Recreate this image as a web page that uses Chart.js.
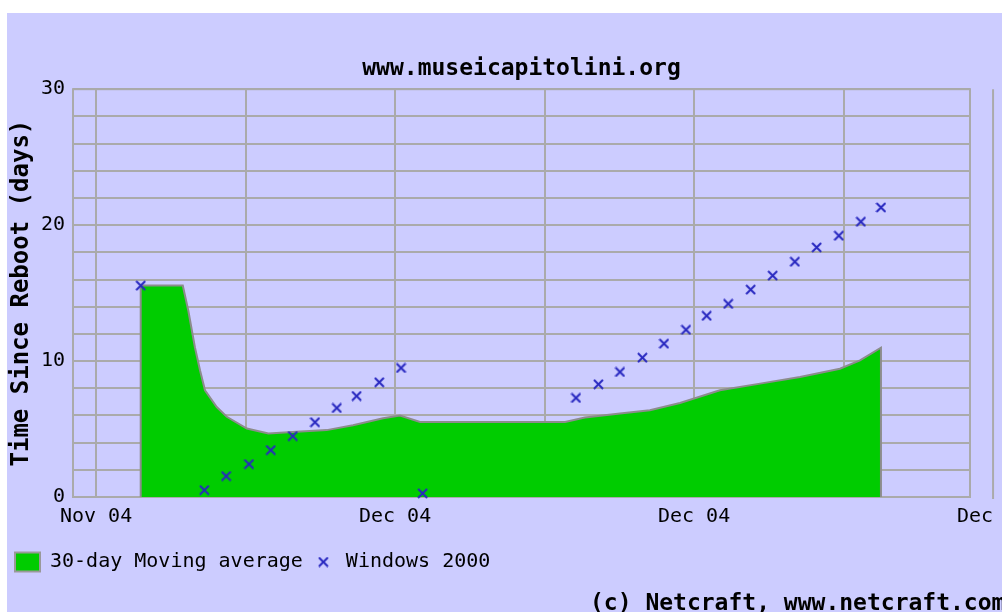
<!DOCTYPE html>
<html>
<head>
<meta charset="utf-8">
<script src="https://cdn.jsdelivr.net/npm/chart.js@4/dist/chart.umd.min.js"></script>
<style>
  html, body { margin: 0; padding: 0; background: #ffffff; overflow: hidden; }
  #wrap { position: absolute; left: 7px; top: 13px; width: 995px; height: 599px; background: #ccccff; }
</style>
</head>
<body>
<div id="wrap"><canvas id="myChart" width="995" height="599"></canvas></div>
<script>
// x in days (gridline every 7 days), y = uptime in days
const avgDays   = [2.09, 2.09, 4.06, 4.32, 4.63, 4.87, 5.10, 5.65, 6.12, 7.06, 8.07, 9.18, 10.8, 12.03, 13.44, 14.23, 15.17, 21.96, 22.89, 24.53, 25.93, 27.34, 29.21, 31.09, 32.96, 34.83, 35.77, 36.75, 36.75];
const avgValues = [0, 15.55, 15.55, 13.7, 11.0, 9.3, 7.85, 6.62, 5.9, 5.04, 4.67, 4.79, 4.92, 5.28, 5.8, 6.0, 5.52, 5.52, 5.85, 6.14, 6.38, 6.92, 7.85, 8.34, 8.83, 9.44, 10.05, 10.98, 0];

const winDays   = [2.09, 5.07, 6.09, 7.16, 8.18, 9.21, 10.25, 11.27, 12.2, 13.26, 14.28, 15.29, 22.47, 23.52, 24.53, 25.58, 26.59, 27.62, 28.59, 29.6, 30.65, 31.68, 32.72, 33.74, 34.78, 35.81, 36.75];
const winValues = [15.55, 0.51, 1.54, 2.42, 3.45, 4.48, 5.5, 6.55, 7.43, 8.44, 9.49, 0.27, 7.29, 8.29, 9.2, 10.25, 11.28, 12.3, 13.33, 14.21, 15.26, 16.29, 17.31, 18.36, 19.22, 20.25, 21.3];

const xGridDays = [0, 7, 14, 21, 28, 35];
const xTickValues = [0, 14, 28, 42];
const xTickLabels = ['Nov 04', 'Dec 04', 'Dec 04', 'Dec 04'];
const yTickLabels = [0, 10, 20, 30];

const seriesNames = ['30-day Moving average', 'Windows 2000'];
const titleText = 'www.museicapitolini.org';
const creditText = '(c) Netcraft, www.netcraft.com';

const mono = 'DejaVu Sans Mono';
const gridGray = '#aaaaaa';

//small x marker
const crossImg = document.createElement('canvas');
crossImg.width = 11; crossImg.height = 11;
let cctx = crossImg.getContext('2d');
cctx.strokeStyle = '#2828c0';
cctx.lineWidth = 2;
cctx.beginPath();
cctx.moveTo(1, 1); cctx.lineTo(10, 10);
cctx.moveTo(10, 1); cctx.lineTo(1, 10);
cctx.stroke();

//frame, last gridline outside the plot, credit text
const extras = {
    id: 'extras',
    beforeDatasetsDraw(chart) {
        const {ctx, chartArea: a, scales: {x}} = chart;
        ctx.save();
        ctx.strokeStyle = gridGray;
        ctx.lineWidth = 2;
        ctx.strokeRect(a.left, a.top, a.right - a.left, a.bottom - a.top);
        const px = x.getPixelForValue(xTickValues[3]);
        ctx.beginPath();
        ctx.moveTo(px, a.top);
        ctx.lineTo(px, a.bottom + 2);
        ctx.stroke();
        ctx.restore();
    },
    afterDraw(chart) {
        const {ctx, chartArea: a, scales: {x}} = chart;
        ctx.save();
        ctx.fillStyle = '#000';
        ctx.font = '20px "' + mono + '"';
        ctx.textAlign = 'center';
        ctx.textBaseline = 'middle';
        ctx.fillText(xTickLabels[3], x.getPixelForValue(xTickValues[3]), a.bottom + 20);
        ctx.font = 'bold 23px "' + mono + '"';
        ctx.textAlign = 'left';
        ctx.fillText(creditText, 583, 591);
        ctx.restore();
    }
};

const ctx = document.getElementById('myChart').getContext('2d');
Chart.defaults.color = '#000';
Chart.defaults.font.family = mono;

const myChart = new Chart(ctx, {
    type: 'line',
    data: {
        datasets: [
            {
                label: seriesNames[0],
                data: avgDays.map((d, i) => ({x: d, y: avgValues[i]})),
                fill: 'origin',
                backgroundColor: '#00cc00',
                borderColor: '#8c8c8c',
                borderWidth: 2,
                pointRadius: 0,
                tension: 0,
                order: 2
            },
            {
                label: seriesNames[1],
                type: 'scatter',
                data: winDays.map((d, i) => ({x: d, y: winValues[i]})),
                pointStyle: crossImg,
                pointRadius: 5,
                showLine: false,
                clip: false,
                order: 1
            }
        ]
    },
    options: {
        responsive: false,
        animation: false,
        layout: { padding: { left: 0, right: 32, top: 0, bottom: 30 } },
        scales: {
            x: {
                type: 'linear',
                min: -1.08,
                max: 40.92,
                afterFit(s) { s.height = 47; },
                afterBuildTicks(s) { s.ticks = xGridDays.map(v => ({value: v})); },
                border: { display: false },
                grid: { color: gridGray, lineWidth: 2, drawTicks: false },
                ticks: {
                    padding: 8,
                    maxRotation: 0,
                    autoSkip: false,
                    font: { size: 20 },
                    callback: v => {
                        const i = xTickValues.indexOf(v);
                        return i >= 0 ? xTickLabels[i] : '';
                    }
                }
            },
            y: {
                min: 0,
                max: 30,
                afterFit(s) { s.width = 66; },
                border: { display: false },
                grid: { color: gridGray, lineWidth: 2, drawTicks: false },
                ticks: {
                    stepSize: 2,
                    padding: 8,
                    font: { size: 20 },
                    callback: v => yTickLabels.includes(v) ? String(v) : ''
                },
                title: {
                    display: true,
                    text: 'Time Since Reboot (days)',
                    font: { size: 24, weight: 'bold' },
                    padding: 0
                }
            }
        },
        plugins: {
            title: {
                display: true,
                text: titleText,
                fullSize: false,
                font: { size: 23, weight: 'bold' },
                padding: { top: 42, bottom: 6.6 }
            },
            legend: {
                position: 'bottom',
                align: 'start',
                labels: {
                    usePointStyle: true,
                    pointStyleWidth: 25,
                    boxHeight: 19,
                    padding: 8,
                    font: { size: 20 },
                    generateLabels: () => [
                        { text: seriesNames[0], fillStyle: '#00cc00', strokeStyle: '#999999', lineWidth: 2, pointStyle: 'rect', datasetIndex: 0 },
                        { text: seriesNames[1], fillStyle: '#2828c0', strokeStyle: '#2828c0', lineWidth: 0, pointStyle: crossImg, datasetIndex: 1 }
                    ]
                }
            },
            tooltip: { enabled: false }
        }
    },
    plugins: [extras]
});
</script>
</body>
</html>
